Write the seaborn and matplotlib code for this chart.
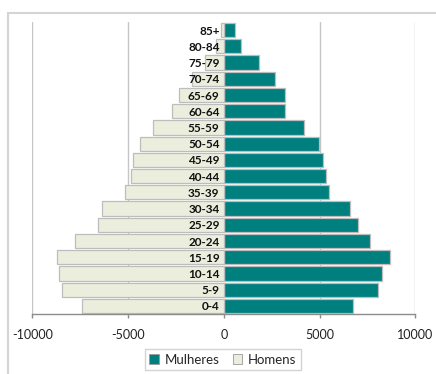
import matplotlib
matplotlib.use("Agg")
import matplotlib.pyplot as plt
from matplotlib.patches import Rectangle
from matplotlib.ticker import FixedLocator
import seaborn as sns
import pandas as pd

# Age groups, oldest first (top of the pyramid)
age_groups = ["85+", "80-84", "75-79", "70-74", "65-69", "60-64", "55-59",
              "50-54", "45-49", "40-44", "35-39", "30-34", "25-29", "20-24",
              "15-19", "10-14", "5-9", "0-4"]
women = [560, 910, 1830, 2670, 3180, 3180, 4210, 4975, 5185, 5340, 5500,
         6565, 6985, 7645, 8675, 8255, 8065, 6755]
men = [170, 400, 960, 1675, 2320, 2720, 3715, 4375, 4740, 4830, 5180,
       6385, 6595, 7745, 8690, 8585, 8430, 7380]
series = ["Mulheres", "Homens"]
x_ticks = [-10000, -5000, 0, 5000, 10000]

df = pd.DataFrame({
    "idade": age_groups * 2,
    "sexo": [series[0]] * len(age_groups) + [series[1]] * len(age_groups),
    "populacao": women + [-v for v in men],
})

sns.set_theme(style="white")
plt.rcParams["font.family"] = ["Lato", "DejaVu Sans"]

fig = plt.figure(figsize=(4.36, 3.74), dpi=100)
ax = fig.add_axes([32.3 / 436, 1 - 314 / 374, 383 / 436, 292 / 374])

sns.barplot(data=df, y="idade", x="populacao", hue="sexo", order=age_groups,
            hue_order=series, dodge=False, orient="h", width=0.88,
            palette={"Mulheres": "#007F7F", "Homens": "#EBEEDD"},
            edgecolor="#BDBDBD", linewidth=0.9, saturation=1, ax=ax)

ax.set_xlim(-10000, 10000)
ax.set_ylim(len(age_groups) - 0.5, -0.5)
ax.xaxis.set_major_locator(FixedLocator(x_ticks))
ax.set_xticklabels([str(t) for t in x_ticks], fontsize=9, color="#222222")
ax.set_xlabel("")
ax.set_ylabel("")

# vertical gridlines behind the bars
for t in x_ticks:
    if t != 0:
        ax.axvline(t, color="#C6C6C6", linewidth=1.0, zorder=0)

# category labels sit beside the zero line
ax.spines["left"].set_position(("data", 0))
ax.spines["left"].set_visible(False)
ax.tick_params(axis="y", length=0, pad=3, labelsize=8.5)
for lbl in ax.get_yticklabels():
    lbl.set_fontweight("bold")
    lbl.set_color("#111111")
ax.yaxis.set_zorder(5)

for s in ["top", "right"]:
    ax.spines[s].set_visible(False)
ax.spines["bottom"].set_color("#8C8C8C")
ax.spines["bottom"].set_linewidth(1.0)
ax.tick_params(axis="x", direction="out", length=3, width=1.0,
               color="#8C8C8C", pad=8, bottom=True)

leg = ax.legend(loc="center", bbox_to_anchor=(222.7 / 436, 1 - 359.7 / 374),
                bbox_transform=fig.transFigure, ncol=2, fontsize=9.5,
                frameon=True, fancybox=False, handlelength=0.75,
                handleheight=0.75, handletextpad=0.4, columnspacing=1.0,
                borderpad=0.35, title=None)
leg.get_frame().set_edgecolor("#C8C8C8")
leg.get_frame().set_linewidth(1.0)
for h in leg.legend_handles:
    h.set_edgecolor("#9A9A9A")
    h.set_linewidth(0.6)

# chart-area border
fig.patches.append(Rectangle((8 / 436, -0.1), 1.2, 1 - 13 / 374 + 0.1,
                             transform=fig.transFigure, fill=False,
                             edgecolor="#D4D4D4", linewidth=1.5))

fig.savefig("out.png", dpi=100)
